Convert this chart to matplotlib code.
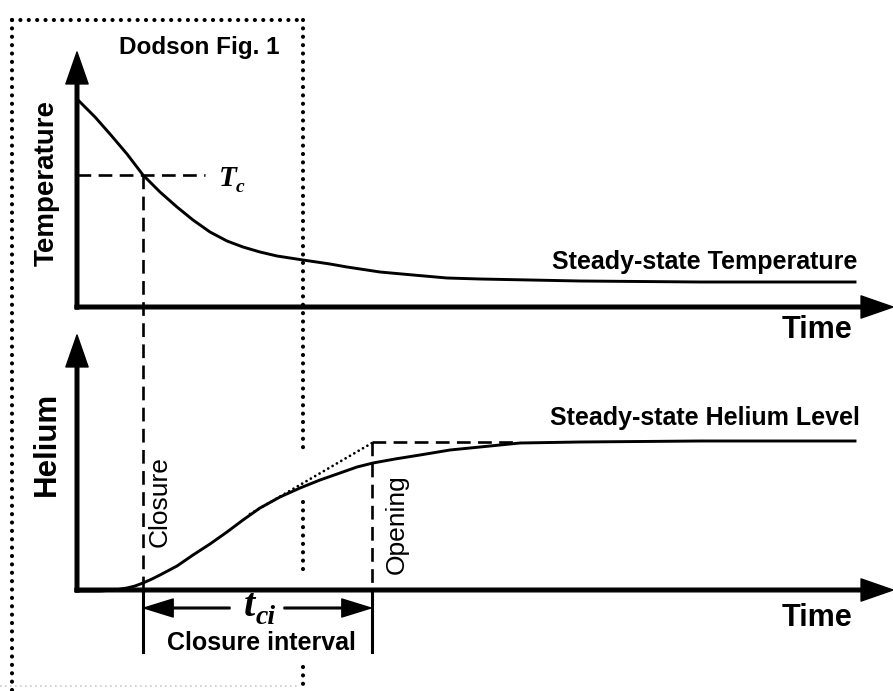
import matplotlib
matplotlib.use("Agg")
import matplotlib.pyplot as plt

# values, in picture pixels (x right, y down)
temp_t = [78, 95, 110, 127, 143, 160, 177, 193, 210, 227, 243, 260, 277, 303, 330, 347, 380, 413,
          447, 480, 530, 580, 700, 855]
temp_y = [100, 117, 134, 154, 175, 192, 207, 220, 232, 241, 247, 252, 256, 260, 264, 267, 272, 275,
          278, 279, 280, 281, 282, 282]

he_t = [77, 100, 115, 127, 135, 143, 152, 160, 177, 193, 210, 227, 243, 260, 280, 300, 320, 340,
        357, 373, 395, 420, 450, 480, 520, 580, 700, 855]
he_y = [591, 591, 590, 588, 586, 583, 579, 575, 566, 555, 544, 532, 520, 508, 497, 488, 480, 473,
        467, 463, 459, 455, 450, 447, 443, 442, 441, 441]

t_closure = 143
t_opening = 372
T_c = 175
He_ss = 442
tangent_t = [250, 372]
tangent_y = [514, 443]

fig = plt.figure(figsize=(8.93, 6.91), dpi=100)
ax = fig.add_axes([0, 0, 1, 1])
ax.set_xlim(0, 893)
ax.set_ylim(691, 0)
ax.axis('off')

font = 'Liberation Sans'
serif = 'Liberation Serif'
k = 'black'

def arrow(x0, y0, x1, y1):
    ax.annotate('', xy=(x1, y1), xytext=(x0, y0),
                arrowprops=dict(facecolor=k, edgecolor=k, width=2.6, headwidth=16,
                                headlength=23, shrink=0))

# axes of both panels
arrow(77, 309, 77, 52)
arrow(75, 307, 893, 307)
arrow(77, 592, 77, 335)
arrow(75, 590, 893, 590)

# dotted "Dodson Fig. 1" box
dot = dict(color=k, lw=3.0, linestyle=(0, (0.01, 2.0)), dash_capstyle='round')
ax.plot([12, 303], [20, 20], **dot)
ax.plot([12, 12], [20, 691], **dot)
ax.plot([303, 303], [20, 448], **dot)
ax.plot([303, 303], [502, 575], **dot)
ax.plot([303, 303], [667, 691], **dot)
ax.plot([0, 300], [686, 686], color='#cccccc', lw=1.2, linestyle=(0, (1, 2)))

# curves
ax.plot(temp_t, temp_y, color=k, lw=2.1, solid_joinstyle='round')
ax.plot(he_t, he_y, color=k, lw=2.1, solid_joinstyle='round')
ax.plot(tangent_t, tangent_y, color=k, lw=2.0, linestyle=(0, (0.01, 1.8)), dash_capstyle='round')

# dashed guides
dash = dict(color=k, lw=1.9, linestyle=(0, (5.2, 2.8)))
ax.plot([77, 205], [T_c, T_c], **dash)
ax.plot([t_closure, t_closure], [T_c, 590], **dash)
ax.plot([t_opening, t_opening], [He_ss, 590], **dash)
ax.plot([t_opening, 520], [He_ss, He_ss], **dash)

# closure interval bracket
ax.plot([t_closure, t_closure], [590, 652], color=k, lw=2.2)
ax.plot([t_opening, t_opening], [590, 652], color=k, lw=2.2)
for x0, x1 in [(230, t_closure + 1), (284, t_opening - 1)]:
    ax.annotate('', xy=(x1, 608), xytext=(x0, 608),
                arrowprops=dict(facecolor=k, edgecolor=k, width=1.2, headwidth=13,
                                headlength=21, shrink=0))

# labels
ax.text(199, 47, 'Dodson Fig. 1', fontsize=17.5, fontweight='bold', family=font,
        ha='center', va='center')
ax.text(47, 183, 'Temperature', fontsize=20, fontweight='bold', family=font,
        rotation=90, ha='center', va='center')
ax.text(47, 444, 'Helium', fontsize=22.5, fontweight='bold', family=font,
        rotation=90, ha='center', va='center')
ax.text(817, 330, 'Time', fontsize=22, fontweight='bold', family=font, ha='center', va='center')
ax.text(817, 618, 'Time', fontsize=22, fontweight='bold', family=font, ha='center', va='center')
ax.text(705, 262, 'Steady-state Temperature', fontsize=18, fontweight='bold', family=font,
        ha='center', va='center')
ax.text(705, 418, 'Steady-state Helium Level', fontsize=18, fontweight='bold', family=font,
        ha='center', va='center')
ax.text(160, 502, 'Closure', fontsize=19, family=font, rotation=90, ha='center', va='center')
ax.text(397, 524, 'Opening', fontsize=19, family=font, rotation=90, ha='center', va='center')
ax.text(261, 643, 'Closure interval', fontsize=18, fontweight='bold', family=font,
        ha='center', va='center')

ax.text(228, 178, 'T', fontsize=21, fontweight='bold', style='italic', family=serif,
        ha='center', va='center')
ax.text(240, 187, 'c', fontsize=14, fontweight='bold', style='italic', family=serif,
        ha='center', va='center')
ax.text(249, 607, 't', fontsize=29, fontweight='bold', style='italic', family=serif,
        ha='center', va='center')
ax.text(266, 617, 'ci', fontsize=20, fontweight='bold', style='italic', family=serif,
        ha='center', va='center')

fig.savefig('out.png', dpi=100)
